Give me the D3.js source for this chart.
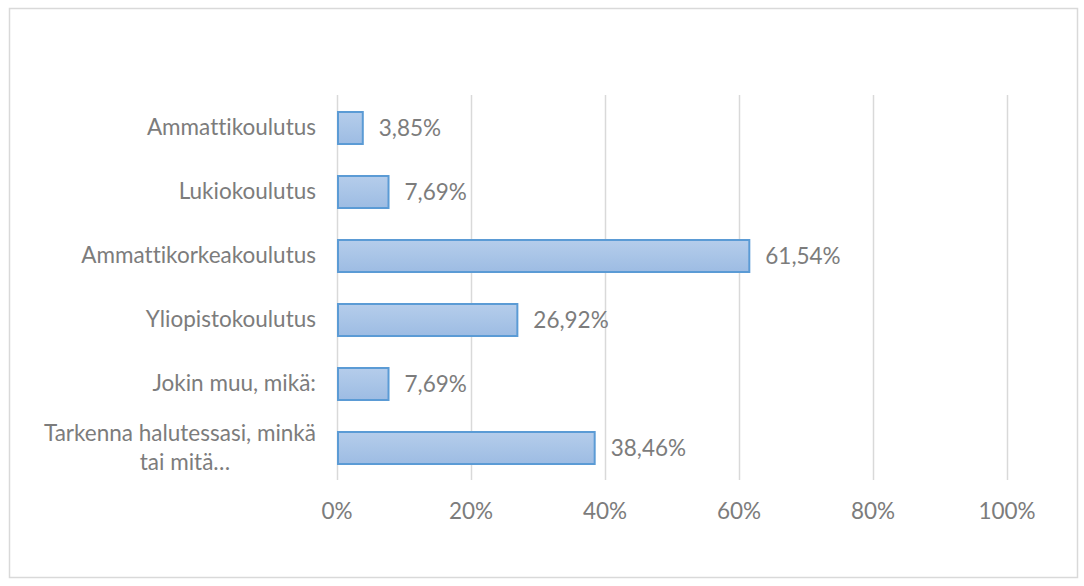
<!DOCTYPE html>
<html><head><meta charset="utf-8">
<script src="https://cdn.jsdelivr.net/npm/d3@7"></script>
<style>body{margin:0;background:#fff}svg{display:block}text{font-variant-ligatures:none;font-feature-settings:"liga" 0}</style>
</head><body>
<svg id="c" width="1084" height="586"></svg>
<script>
const categories = ["Ammattikoulutus","Lukiokoulutus","Ammattikorkeakoulutus","Yliopistokoulutus","Jokin muu, mikä:","Tarkenna halutessasi, minkä|tai mitä…"];
const values = [3.85, 7.69, 61.54, 26.92, 7.69, 38.46];
const valueLabels = ["3,85%","7,69%","61,54%","26,92%","7,69%","38,46%"];
const tickValues = [0,20,40,60,80,100];

const svg = d3.select("#c");
const font = "Lato, 'Open Sans', sans-serif";
const fs = 22.5;
const textColor = "#7c7c7c";

svg.append("rect").attr("x",9.5).attr("y",8.5).attr("width",1068).attr("height",569)
  .attr("fill","#fff").attr("stroke","#d9d9d9").attr("stroke-width",1.5);

const defs = svg.append("defs");
const g = defs.append("linearGradient").attr("id","bg").attr("x1",0).attr("y1",0).attr("x2",0).attr("y2",1);
g.append("stop").attr("offset","0%").attr("stop-color","#b5cdeb");
g.append("stop").attr("offset","100%").attr("stop-color","#9dbce3");

const x = d3.scaleLinear().domain([0,100]).range([337,1007]);
const y = d3.scaleBand().domain(categories).range([96,480]).paddingInner(0.5).paddingOuter(0.25);

// gridlines
svg.append("g").selectAll("line").data(tickValues).join("line")
  .attr("x1",d=>Math.round(x(d))+0.5).attr("x2",d=>Math.round(x(d))+0.5)
  .attr("y1",95).attr("y2",480).attr("stroke","#d9d9d9").attr("stroke-width",1.5);

// x tick labels
svg.append("g").selectAll("text").data(tickValues).join("text")
  .attr("x",d=>x(d)).attr("y",519).attr("text-anchor","middle")
  .attr("font-family",font).attr("font-size",fs).attr("fill",textColor)
  .text(d=>d+"%");

// bars
svg.append("g").selectAll("rect").data(categories).join("rect")
  .attr("x",x(0)+1).attr("y",d=>y(d))
  .attr("width",(d,i)=>x(values[i])-x(0)-1).attr("height",y.bandwidth())
  .attr("fill","url(#bg)").attr("stroke","#5b9bd5").attr("stroke-width",2);

// value labels
svg.append("g").selectAll("text").data(categories).join("text")
  .attr("x",(d,i)=>x(values[i])+16).attr("y",d=>y(d)+y.bandwidth()/2+8)
  .attr("font-family",font).attr("font-size",fs).attr("fill",textColor)
  .text((d,i)=>valueLabels[i]);

// category labels
const cl = svg.append("g");
categories.forEach(c=>{
  const lines = c.split("|");
  const cy = y(c)+y.bandwidth()/2;
  if(lines.length===1){
    cl.append("text").attr("x",316).attr("y",cy+7).attr("text-anchor","end")
      .attr("font-family",font).attr("font-size",fs).attr("fill",textColor).text(lines[0]);
  } else {
    const t = cl.append("text").attr("font-family",font).attr("font-size",fs).attr("fill",textColor);
    t.append("tspan").attr("x",316).attr("y",cy-7).attr("text-anchor","end").text(lines[0]);
    t.append("tspan").attr("x",185).attr("y",cy+22).attr("text-anchor","middle").text(lines[1]);
  }
});
</script>
</body></html>
